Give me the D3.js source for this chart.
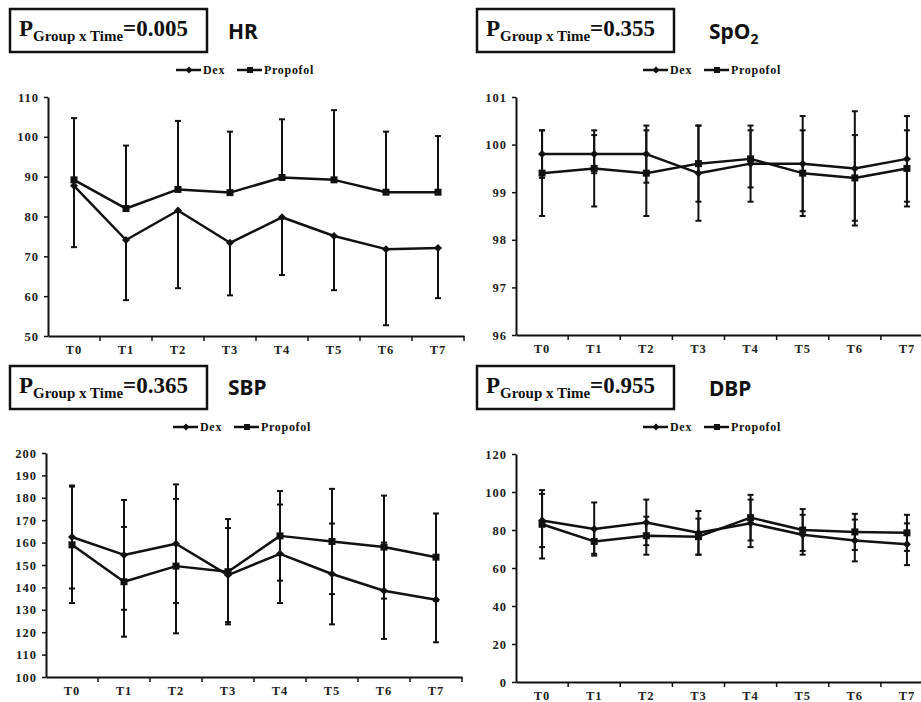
<!DOCTYPE html>
<html>
<head>
<meta charset="utf-8">
<script src="https://cdn.jsdelivr.net/npm/d3@7"></script>
<style>
  body { margin: 0; background: #fff; }
  svg { display: block; }
</style>
</head>
<body>
<script>
// time points
var times = ["T0", "T1", "T2", "T3", "T4", "T5", "T6", "T7"];
var seriesNames = ["Dex", "Propofol"];

// HR
var hrDex = [87.7, 74.1, 81.5, 73.4, 79.8, 75.1, 71.8, 72.1];
var hrDexSd = [15.4, 15.1, 19.5, 13.2, 14.5, 13.6, 19.1, 12.6];
var hrProp = [89.2, 82, 86.8, 86, 89.8, 89.2, 86.1, 86.1];
var hrPropSd = [15.5, 15.8, 17.2, 15.3, 14.6, 17.5, 15.2, 14.1];
var hrTicks = [50, 60, 70, 80, 90, 100, 110];

// SpO2
var spDex = [99.8, 99.8, 99.8, 99.4, 99.6, 99.6, 99.5, 99.7];
var spDexSd = [0.5, 0.4, 0.6, 1.0, 0.8, 1.0, 1.2, 0.9];
var spProp = [99.4, 99.5, 99.4, 99.6, 99.7, 99.4, 99.3, 99.5];
var spPropSd = [0.9, 0.8, 0.9, 0.8, 0.6, 0.9, 0.9, 0.8];
var spTicks = [96, 97, 98, 99, 100, 101];

// SBP
var sbpDex = [162.5, 154.5, 159.5, 145.5, 155, 146, 138.5, 134.5];
var sbpDexSd = [23, 24.5, 26.5, 21, 22, 22.5, 21.5, 19];
var sbpProp = [159, 142.5, 149.5, 147, 163, 160.5, 158, 153.5];
var sbpPropSd = [26, 24.5, 30, 23.5, 20, 23.5, 23, 19.5];
var sbpTicks = [100, 110, 120, 130, 140, 150, 160, 170, 180, 190, 200];

// DBP
var dbpDex = [85, 80.5, 84, 78.5, 83.5, 77.5, 74.5, 72.5];
var dbpDexSd = [14, 14, 12, 11.5, 12.5, 10.5, 11, 11];
var dbpProp = [83, 74, 77, 76.5, 86.5, 80, 79, 78.5];
var dbpPropSd = [18, 6.5, 10, 9.5, 12, 11, 9.5, 9.5];
var dbpTicks = [0, 20, 40, 60, 80, 100, 120];

var pValues = ["0.005", "0.355", "0.365", "0.955"];

var svg = d3.select("body").append("svg")
    .attr("width", 921)
    .attr("height", 702);

var ink = "#111";
var serif = "'Liberation Serif', 'Times New Roman', serif";

// panel layouts
var panels = [
  {title: "HR", p: pValues[0], dex: hrDex, dexSd: hrDexSd, prop: hrProp, propSd: hrPropSd,
   ticks: hrTicks, dexDir: "minus", propDir: "plus",
   left: 48, right: 464, top: 97, bottom: 336, boxX: 10, boxY: 9, titleX: 228, titleY: 39, legX: 176, legY: 70},
  {title: "SpO", sub: "2", p: pValues[1], dex: spDex, dexSd: spDexSd, prop: spProp, propSd: spPropSd,
   ticks: spTicks, dexDir: "both", propDir: "both",
   left: 516, right: 933, top: 97, bottom: 335, boxX: 477, boxY: 9, titleX: 709, titleY: 39, legX: 643, legY: 70},
  {title: "SBP", p: pValues[2], dex: sbpDex, dexSd: sbpDexSd, prop: sbpProp, propSd: sbpPropSd,
   ticks: sbpTicks, dexDir: "both", propDir: "both",
   left: 46, right: 462, top: 453, bottom: 677, boxX: 10, boxY: 366, titleX: 228, titleY: 395, legX: 173, legY: 427},
  {title: "DBP", p: pValues[3], dex: dbpDex, dexSd: dbpDexSd, prop: dbpProp, propSd: dbpPropSd,
   ticks: dbpTicks, dexDir: "both", propDir: "both",
   left: 516, right: 933, top: 454, bottom: 682, boxX: 477, boxY: 366, titleX: 709, titleY: 396, legX: 643, legY: 427}
];

function diamond(g, cx, cy, r) {
  g.append("path")
    .attr("d", "M" + cx + "," + (cy - r) + "L" + (cx + r) + "," + cy + "L" + cx + "," + (cy + r) + "L" + (cx - r) + "," + cy + "Z")
    .attr("fill", ink);
}

function square(g, cx, cy, s) {
  g.append("rect")
    .attr("x", cx - s / 2).attr("y", cy - s / 2)
    .attr("width", s).attr("height", s)
    .attr("fill", ink);
}

function drawPanel(cfg) {
  var g = svg.append("g");

  var x = d3.scaleBand().domain(times).range([cfg.left, cfg.right]);
  var y = d3.scaleLinear()
      .domain(d3.extent(cfg.ticks))
      .range([cfg.bottom, cfg.top]);
  var cx = function(i) { return x(times[i]) + x.bandwidth() / 2; };

  // p value box
  g.append("rect")
    .attr("x", cfg.boxX).attr("y", cfg.boxY)
    .attr("width", 197).attr("height", 43)
    .attr("fill", "none").attr("stroke", ink).attr("stroke-width", 2.5);
  var pt = g.append("text")
    .attr("x", cfg.boxX + 9).attr("y", cfg.boxY + 27)
    .attr("font-family", serif).attr("font-weight", "bold")
    .attr("font-size", 23).attr("fill", ink);
  pt.append("tspan").text("P");
  pt.append("tspan").attr("font-size", 15).attr("dy", 5).text("Group x Time");
  pt.append("tspan").attr("dy", -5).text("=" + cfg.p);

  // title
  var tt = g.append("text")
    .attr("x", cfg.titleX).attr("y", cfg.titleY)
    .attr("font-family", "'Noto Sans', 'DejaVu Sans', sans-serif")
    .attr("font-weight", "bold").attr("font-size", 21).attr("fill", ink)
    .text(cfg.title);
  if (cfg.sub) {
    tt.append("tspan").attr("font-size", 14).attr("dy", 5).text(cfg.sub);
  }

  // legend
  var lg = g.append("g").attr("transform", "translate(" + cfg.legX + "," + cfg.legY + ")");
  seriesNames.forEach(function(name, k) {
    var ox = k === 0 ? 0 : 61;
    lg.append("line").attr("x1", ox).attr("x2", ox + 25).attr("y1", 0).attr("y2", 0)
      .attr("stroke", ink).attr("stroke-width", 2.5);
    if (k === 0) diamond(lg, ox + 13, 0, 3.5);
    else square(lg, ox + 13, 0, 6);
    lg.append("text").attr("x", ox + 27).attr("y", 4)
      .attr("font-family", serif).attr("font-weight", "bold")
      .attr("font-size", 12).attr("letter-spacing", 0.7).attr("fill", ink)
      .text(name);
  });

  // y axis
  var yAxis = g.append("g")
      .attr("transform", "translate(" + cfg.left + ",0)")
      .call(d3.axisLeft(y).tickValues(cfg.ticks).tickFormat(d3.format("d"))
        .tickSize(4).tickSizeOuter(0).tickPadding(5));
  yAxis.select(".domain").attr("stroke", ink).attr("stroke-width", 2);
  yAxis.selectAll(".tick line").attr("stroke", ink).attr("stroke-width", 1.5);
  yAxis.selectAll(".tick text")
    .attr("font-family", serif).attr("font-weight", "bold")
    .attr("font-size", 12.5).attr("letter-spacing", 1).attr("fill", "#222");

  // x axis
  var xAxis = g.append("g")
      .attr("transform", "translate(0," + cfg.bottom + ")")
      .call(d3.axisBottom(x).tickSize(0).tickSizeOuter(0).tickPadding(9));
  xAxis.select(".domain").attr("stroke", ink).attr("stroke-width", 2);
  xAxis.selectAll(".tick text")
    .attr("font-family", serif).attr("font-weight", "bold")
    .attr("font-size", 12.5).attr("letter-spacing", 1).attr("fill", "#222");
  xAxis.selectAll(".bound")
    .data(times)
    .enter().append("line")
    .attr("x1", function(d) { return x(d) + x.bandwidth(); })
    .attr("x2", function(d) { return x(d) + x.bandwidth(); })
    .attr("y1", 0).attr("y2", 5)
    .attr("stroke", ink).attr("stroke-width", 1.5);

  // error bars
  function errBars(vals, sds, dir) {
    vals.forEach(function(v, i) {
      var hi = dir === "minus" ? v : v + sds[i];
      var lo = dir === "plus" ? v : v - sds[i];
      g.append("line")
        .attr("x1", cx(i)).attr("x2", cx(i))
        .attr("y1", y(hi)).attr("y2", y(lo))
        .attr("stroke", ink).attr("stroke-width", 2);
      if (dir !== "minus") {
        g.append("line").attr("x1", cx(i) - 3).attr("x2", cx(i) + 3)
          .attr("y1", y(hi)).attr("y2", y(hi))
          .attr("stroke", ink).attr("stroke-width", 2);
      }
      if (dir !== "plus") {
        g.append("line").attr("x1", cx(i) - 3).attr("x2", cx(i) + 3)
          .attr("y1", y(lo)).attr("y2", y(lo))
          .attr("stroke", ink).attr("stroke-width", 2);
      }
    });
  }
  errBars(cfg.dex, cfg.dexSd, cfg.dexDir);
  errBars(cfg.prop, cfg.propSd, cfg.propDir);

  // lines
  var line = d3.line()
      .x(function(d, i) { return cx(i); })
      .y(function(d) { return y(d); });
  [cfg.dex, cfg.prop].forEach(function(vals) {
    g.append("path")
      .datum(vals)
      .attr("d", line)
      .attr("fill", "none").attr("stroke", ink).attr("stroke-width", 2.5)
      .attr("stroke-linejoin", "round");
  });

  // markers
  cfg.dex.forEach(function(v, i) { diamond(g, cx(i), y(v), 4); });
  cfg.prop.forEach(function(v, i) { square(g, cx(i), y(v), 7); });
}

panels.forEach(drawPanel);
</script>
</body>
</html>
